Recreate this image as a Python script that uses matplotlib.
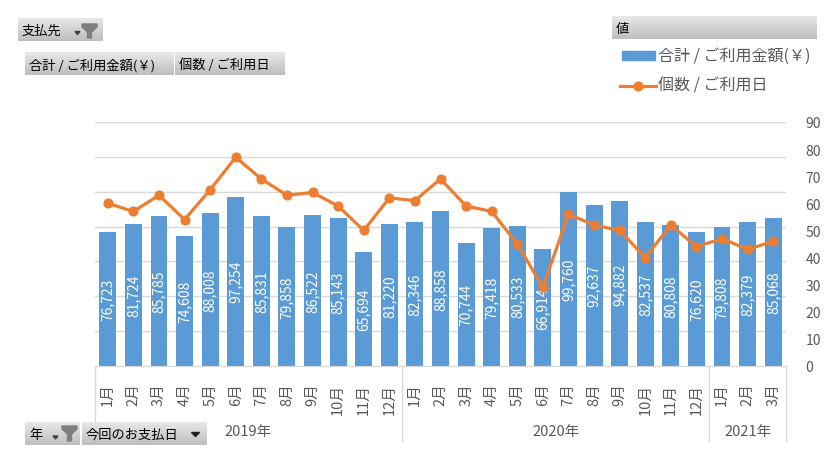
import matplotlib
matplotlib.use('Agg')
import matplotlib.pyplot as plt
import numpy as np
from matplotlib.patches import Polygon, Rectangle
from matplotlib.lines import Line2D
from matplotlib.colors import LinearSegmentedColormap
import matplotlib.transforms as mtransforms

plt.rcParams['font.family'] = ['Noto Sans CJK JP', 'DejaVu Sans']

# ---- data ----
years = ['2019年', '2020年', '2021年']
year_counts = [12, 12, 3]
months = ['1月', '2月', '3月', '4月', '5月', '6月', '7月', '8月', '9月', '10月', '11月', '12月',
          '1月', '2月', '3月', '4月', '5月', '6月', '7月', '8月', '9月', '10月', '11月', '12月',
          '1月', '2月', '3月']
amounts = [76723, 81724, 85785, 74608, 88008, 97254, 85831, 79858, 86522, 85143, 65694, 81220,
           82346, 88858, 70744, 79418, 80533, 66914, 99760, 92637, 94882, 82537, 80808, 76620,
           79808, 82379, 85068]
counts = [60, 57, 63, 54, 65, 77, 69, 63, 64, 59, 50, 62,
          61, 69, 59, 57, 45, 29, 56, 52, 50, 40, 52, 44,
          47, 43, 46]
series_names = ['合計 / ご利用金額(￥)', '個数 / ご利用日']

BLUE = '#5B9BD5'
ORANGE = '#ED7D31'
GRID = '#D9D9D9'
TXT = '#595959'

W, H = 840, 464
fig = plt.figure(figsize=(8.4, 4.64), dpi=100)


def fx(x):
    return x / W


def fy(y):
    return 1 - y / H


ax = fig.add_axes([fx(95), fy(367), (786 - 95) / W, (367 - 123) / H])
x = np.arange(len(amounts))
bars = ax.bar(x, amounts, width=0.66, color=BLUE, zorder=2)
ax.set_ylim(0, 140000)
ax.set_yticks(np.arange(0, 140001, 20000))
ax.yaxis.grid(True, color=GRID, lw=1)
ax.set_axisbelow(True)
ax.set_xlim(-0.5, len(amounts) - 0.5)
for s in ['top', 'right', 'left']:
    ax.spines[s].set_visible(False)
ax.spines['bottom'].set_color(GRID)
ax.set_xticks(x)
ax.set_xticklabels(months, rotation=90, color=TXT, fontsize=10.5)
ax.tick_params(axis='x', length=0, pad=12)
ax.bar_label(bars, labels=[f'{v:,}' for v in amounts], label_type='center',
             rotation=90, color='white', fontsize=10)

ax2 = ax.twinx()
ax2.plot(x, counts, color=ORANGE, lw=2.3, marker='o', ms=6.3, zorder=3)
ax2.set_ylim(0, 90)
ax2.set_yticks(range(0, 91, 10))
ax2.tick_params(axis='y', length=0, pad=14, labelcolor=TXT, labelsize=10)
for s in ax2.spines.values():
    s.set_visible(False)
ax.tick_params(axis='y', left=False, right=False, labelleft=False, labelright=False)

# hierarchical category axis
trans = mtransforms.blended_transform_factory(ax.transData, ax.transAxes)
bounds = np.cumsum([0] + year_counts) - 0.5
for b in bounds:
    ax.plot([b, b], [0, -75 / 244], transform=trans, color=GRID, lw=1, clip_on=False)
for i, yname in enumerate(years):
    c = (bounds[i] + bounds[i + 1]) / 2
    ax.text(c, -65 / 244, yname, transform=trans, ha='center', va='center',
            color=TXT, fontsize=10.5)

# legend
fig.patches.append(Rectangle((fx(622), fy(61)), 33 / W, 9 / H, transform=fig.transFigure,
                             color=BLUE))
fig.text(fx(658), fy(56), series_names[0], va='center', ha='left', fontsize=11.5, color=TXT)
fig.add_artist(Line2D([fx(620), fx(656)], [fy(87), fy(87)], color=ORANGE, lw=2.3))
fig.add_artist(Line2D([fx(638)], [fy(87)], marker='o', ms=6.3, color=ORANGE))
fig.text(fx(658), fy(86), series_names[1], va='center', ha='left', fontsize=11.5, color=TXT)

# pivot field buttons
cmap = LinearSegmentedColormap.from_list('btn', ['#BEBEBE', '#E8E8E8'])
grad = np.linspace(1, 0, 60).reshape(-1, 1)


def button(x0, y0, x1, y1, text, tx):
    bax = fig.add_axes([fx(x0), fy(y1), (x1 - x0) / W, (y1 - y0) / H])
    bax.imshow(grad, aspect='auto', cmap=cmap, vmin=0, vmax=1, extent=[0, 1, 0, 1])
    bax.axis('off')
    fig.text(fx(tx), fy((y0 + y1) / 2 + 1), text, va='center', ha='left', fontsize=9.5,
             color='black')


def tri(xc, yc, w, h, color):
    pts = [(fx(xc - w / 2), fy(yc - h / 2)), (fx(xc + w / 2), fy(yc - h / 2)),
           (fx(xc), fy(yc + h / 2))]
    fig.patches.append(Polygon(pts, closed=True, transform=fig.transFigure, color=color))


def funnel(x0, y0, x1, y1, color='#7F7F7F'):
    xm = (x0 + x1) / 2
    pts = [(x0, y0), (x1, y0), (x1, y0 + 3), (xm + 2, y0 + 8), (xm + 2, y1),
           (xm - 2, y1), (xm - 2, y0 + 8), (x0, y0 + 3)]
    fig.patches.append(Polygon([(fx(a), fy(b)) for a, b in pts], closed=True,
                               transform=fig.transFigure, color=color))


button(18, 19, 102, 42, '支払先', 22)
tri(77.5, 34, 5, 3, '#404040')
funnel(82, 25, 97, 39)

button(25, 53, 173, 76, '合計 / ご利用金額(￥)', 29)
button(175, 53, 285, 76, '個数 / ご利用日', 179)
button(612, 17, 817, 40, '値', 616)

button(25, 423, 80, 446, '年', 29)
tri(55.5, 438.5, 5, 3, '#404040')
funnel(62, 427, 77, 442)
button(82, 423, 207, 446, '今回のお支払日', 86)
tri(195.5, 435.5, 8, 4, '#202020')

fig.savefig('out.png', dpi=100)
